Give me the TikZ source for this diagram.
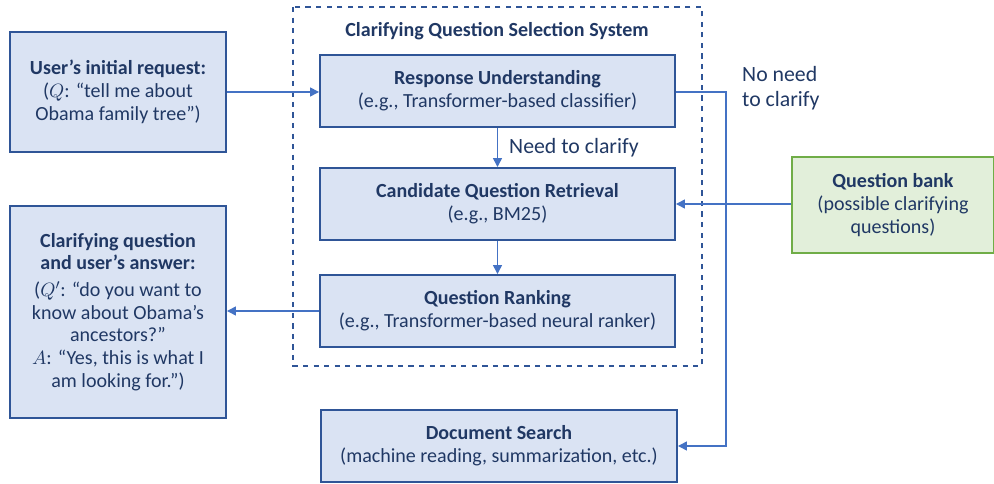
\documentclass[tikz,border=0pt]{standalone}
\usepackage{fontspec}
\setmainfont{Carlito}
\usepackage{tikz}
\usetikzlibrary{positioning,arrows.meta}
\usepackage{xcolor}
\definecolor{boxfill}{HTML}{DAE3F3}
\definecolor{boxline}{HTML}{2F5597}
\definecolor{inktext}{HTML}{203864}
\definecolor{arrowc}{HTML}{4472C4}
\definecolor{bankfill}{HTML}{E2EFDA}
\definecolor{bankline}{HTML}{70AD47}

\begin{document}
\begin{tikzpicture}[
    every node/.style={text=inktext, font=\fontsize{11.4}{13}\selectfont},
    stage/.style={draw=boxline, fill=boxfill, line width=1.1pt, align=center,
                  minimum width=7.1cm, minimum height=1.44cm},
    side/.style={draw=boxline, fill=boxfill, line width=1.1pt, align=center,
                 minimum width=4.32cm},
    conn/.style={draw=arrowc, line width=0.8pt, -{Triangle[length=5pt,width=5pt]}}
  ]
  \useasboundingbox (0,0) rectangle (19.88,-9.68);

  % selection system frame
  \draw[boxline, dashed, line width=0.9pt] (5.86,-0.14) rectangle (14.04,-7.32);
  \node[font=\fontsize{11.4}{13}\selectfont\bfseries] (systitle) at (9.94,-0.62)
    {Clarifying Question Selection System};

  % stages inside the frame
  \node[stage] (resp) at (9.95,-1.82)
    {\textbf{Response Understanding}\\(e.g., Transformer-based classifier)};
  \node[stage] (cand) at (9.95,-4.08)
    {\textbf{Candidate Question Retrieval}\\(e.g., BM25)};
  \node[stage] (rank) at (9.95,-6.22)
    {\textbf{Question Ranking}\\(e.g., Transformer-based neural ranker)};

  % outside boxes
  \node[stage, minimum width=7.12cm] (docs) at (9.98,-8.92)
    {\textbf{Document Search}\\(machine reading, summarization, etc.)};
  \node[side, minimum height=2.4cm] (request) at (2.36,-1.84)
    {\textbf{User’s initial request:}\\($Q$: “tell me about\\Obama family tree”)};
  \node[side, minimum height=4.24cm] (clar) at (2.36,-6.24)
    {\textbf{Clarifying question}\\\textbf{and user’s answer:}\\[2pt]($Q'$: “do you want to\\know about Obama’s\\ancestors?”\\$A$: “Yes, this is what I\\am looking for.”)};
  \node[draw=bankline, fill=bankfill, line width=1pt, align=center,
        minimum width=4.04cm, minimum height=1.92cm] (bank) at (17.86,-4.1)
    {\textbf{Question bank}\\(possible clarifying\\questions)};

  % labels
  \node[anchor=west, font=\fontsize{12.4}{14}\selectfont] (needlbl) at (10.06,-2.96) {Need to clarify};
  \node[anchor=west, align=left, font=\fontsize{12.4}{14}\selectfont] (noneedlbl) at (14.72,-1.76) {No need\\to clarify};

  \coordinate (bend) at (14.52,-1.84);

  % connectors
  \draw[conn] (request.east) -- (resp.west |- request.east);
  \draw[conn] (resp.south) -- (cand.north);
  \draw[conn] (cand.south) -- (rank.north);
  \draw[conn] (rank.west) -- (rank.west -| clar.east);
  \draw[conn] (bank.west |- cand.east) -- (cand.east);
  \draw[conn] (resp.east |- bend) -- (bend) |- (docs.east);
\end{tikzpicture}
\end{document}
